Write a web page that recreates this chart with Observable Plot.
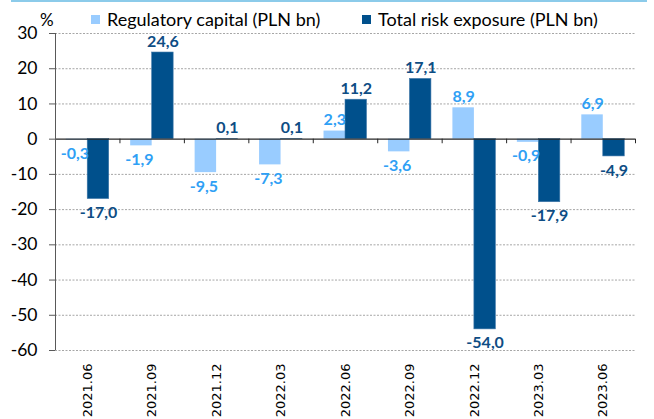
<!DOCTYPE html>
<html>
<head>
<meta charset="utf-8">
<script src="https://cdn.jsdelivr.net/npm/d3@7"></script>
<script src="https://cdn.jsdelivr.net/npm/@observablehq/plot@0.6"></script>
<style>
  html, body { margin: 0; padding: 0; background: #fff; }
  #wrap { position: relative; width: 654px; height: 419px; overflow: hidden; font-family: Lato, "Open Sans", sans-serif; }
  #topbox { position: absolute; left: 11px; top: -20px; width: 632px; height: 20px; border: 2px solid #8ccbea; border-top: none; }
  .pct { position: absolute; left: 40px; top: 9px; font-size: 17px; color: #000; }
  .leg { position: absolute; top: 9px; font-size: 18px; color: #000; white-space: nowrap; line-height: 20px; }
  .sw { display: inline-block; width: 9px; height: 9px; margin-right: 7px; vertical-align: 2px; }
  #chart { position: absolute; left: 0; top: 0; }
</style>
</head>
<body>
<div id="wrap">
  <div id="chart"></div>
  <div id="topbox"></div>
  <div class="pct">%</div>
  <div class="leg" style="left:91px"><span class="sw" style="background:#99ccff"></span>Regulatory capital (PLN bn)</div>
  <div class="leg" style="left:362px"><span class="sw" style="background:#00508c"></span>Total risk exposure (PLN bn)</div>
</div>
<script>
const dates = ["2021.06","2021.09","2021.12","2022.03","2022.06","2022.09","2022.12","2023.03","2023.06"];
const regCapital = [-0.3, -1.9, -9.5, -7.3, 2.3, -3.6, 8.9, -0.9, 6.9];
const totalRisk = [-17.0, 24.6, 0.1, 0.1, 11.2, 17.1, -54.0, -17.9, -4.9];
const yTicks = [-60, -50, -40, -30, -20, -10, 0, 10, 20, 30];

const rows = dates.map((d, i) => ({date: d, i, reg: regCapital[i], tre: totalRisk[i]}));
const fmt = v => v.toFixed(1).replace(".", ",");
const lightBar = "#99ccff", darkBar = "#00508c";
const lightLbl = "#2fa0f5", darkLbl = "#0e4d84";

const chart = Plot.plot({
  width: 654,
  height: 419,
  marginLeft: 55,
  marginRight: 19,
  marginTop: 33,
  marginBottom: 69,
  x: {domain: [0, dates.length], axis: null},
  y: {domain: [-60, 30], axis: null},
  style: {fontFamily: "Lato, 'Open Sans', sans-serif", background: "transparent", overflow: "visible", color: "#000"},
  marks: [
    Plot.gridY(yTicks.filter(v => v !== 0), {stroke: "#a6a6a6", strokeOpacity: 1, strokeDasharray: "2,1.5"}),
    Plot.rect(rows, {x1: d => d.i + 1/6, x2: d => d.i + 0.5, y1: 0, y2: d => d.reg, fill: lightBar}),
    Plot.rect(rows, {x1: d => d.i + 0.5, x2: d => d.i + 5/6, y1: 0, y2: d => d.tre, fill: darkBar, stroke: "#3f77a8", strokeWidth: 0.6}),
    Plot.ruleY([0], {stroke: "#262626", strokeWidth: 1.2}),
    Plot.ruleX(d3.range(dates.length + 1), {x: d => d, y1: 0, y2: -1.3, stroke: "#262626"}),
    Plot.ruleX([0], {y1: -60, y2: 30, stroke: "#595959"}),
    Plot.axisY({ticks: yTicks, tickSize: 6, tickPadding: 12, fontSize: 17.5, tickFormat: d => String(d), anchor: "left", label: null, stroke: "#595959"}),
    Plot.axisX(dates.map((d, i) => i + 0.5), {anchor: "bottom", tickSize: 0, tickPadding: 13, tickRotate: -90, tickFormat: v => dates[Math.floor(v)], fontFamily: "DejaVu Sans", fontSize: 13, label: null}),
    Plot.text(rows.filter(d => d.reg >= 0), {x: d => d.i + 1/3, y: d => d.reg, text: d => fmt(d.reg), dy: -11, fill: lightLbl, fontWeight: "bold", fontSize: 16}),
    Plot.text(rows.filter(d => d.reg < 0), {x: d => d.i + 1/3, y: d => d.reg, text: d => fmt(d.reg), dy: 14, dx: -2, fill: lightLbl, fontWeight: "bold", fontSize: 16}),
    Plot.text(rows.filter(d => d.tre >= 0), {x: d => d.i + 2/3, y: d => d.tre, text: d => fmt(d.tre), dy: -11, fill: darkLbl, fontWeight: "bold", fontSize: 16}),
    Plot.text(rows.filter(d => d.tre < 0), {x: d => d.i + 2/3, y: d => d.tre, text: d => fmt(d.tre), dy: 14, fill: darkLbl, fontWeight: "bold", fontSize: 16})
  ]
});
document.getElementById("chart").appendChild(chart);
</script>
</body>
</html>
